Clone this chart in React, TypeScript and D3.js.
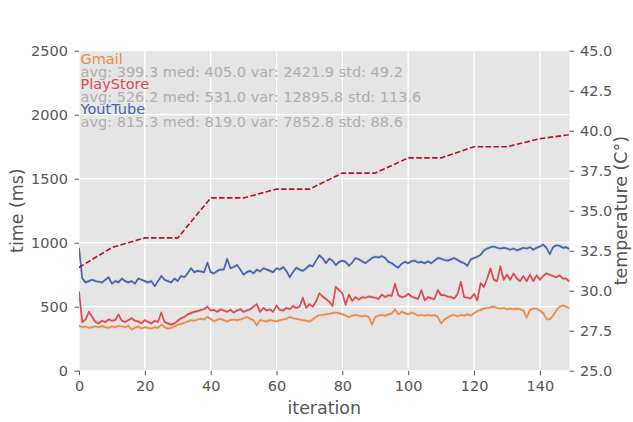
import React, { useEffect, useRef } from 'react';
import * as d3 from 'd3';

const gmail = [
  350, 340, 345, 335, 340, 345, 340, 350, 340, 335,
  345, 340, 350, 345, 340, 350, 320, 335, 345, 330,
  340, 335, 330, 340, 335, 360, 340, 330, 335, 345,
  360, 365, 375, 385, 395, 390, 400, 405, 400, 420,
  405, 385, 400, 405, 395, 385, 395, 400, 395, 400,
  410, 420, 405, 395, 355, 395, 390, 385, 395, 390,
  385, 395, 400, 405, 420, 410, 405, 400, 395, 390,
  385, 400, 420, 435, 435, 440, 445, 450, 455, 450,
  440, 430, 420, 430, 435, 430, 425, 430, 420, 360,
  420, 430, 435, 430, 440, 445, 480, 440, 460, 450,
  440, 455, 445, 430, 435, 430, 435, 430, 435, 420,
  370, 400, 415, 430, 435, 425, 435, 430, 440, 430,
  450, 465, 475, 485, 490, 495, 500, 490, 485, 490,
  480, 485, 480, 485, 480, 470, 415, 475, 485, 485,
  470, 450, 405, 400, 430, 470, 500, 510, 500, 490,
];

const playStore = [
  620, 380, 400, 460, 420, 380, 370, 390, 380, 400,
  390, 395, 440, 390, 380, 395, 410, 390, 385, 370,
  395, 380, 370, 390, 380, 455, 380, 370, 360, 370,
  390, 410, 420, 440, 450, 460, 465, 475, 480, 500,
  470, 475, 460, 480, 470, 460, 475, 455, 470, 480,
  460, 470, 480, 500, 520, 460, 490, 470, 480, 460,
  510, 475, 470, 490, 480, 505, 490, 500, 570, 490,
  520, 500, 540, 605, 580, 560, 540, 505, 655, 630,
  605, 515, 595, 545, 575, 555, 575, 570, 580, 575,
  570, 560, 595, 575, 590, 585, 680, 590, 575, 580,
  600, 580, 570, 560, 630, 550, 575, 565, 560, 630,
  590, 590, 580, 575, 565, 600, 695, 575, 570, 565,
  600, 550, 685, 655, 720, 800, 710, 700, 815, 710,
  750, 710, 760, 720, 700, 740, 700, 750, 700, 745,
  710, 740, 760, 750, 740, 730, 745, 720, 720, 695,
];

const youTube = [
  960, 720, 690, 700, 710, 700, 695, 690, 710, 730,
  680, 700, 690, 720, 700, 690, 700, 680, 720, 710,
  700, 690, 700, 660, 700, 740, 710, 700, 690, 720,
  700, 740, 730, 760, 800, 770, 780, 775, 770, 845,
  770, 760, 780, 790, 790, 875, 800, 810, 825, 790,
  750, 770, 780, 760, 790, 775, 800, 790, 780, 770,
  800, 790, 810, 780, 730, 770, 805, 790, 780, 800,
  825, 815, 860, 900, 880, 840, 875, 860, 825, 850,
  860, 850, 820, 845, 880, 870, 855, 840, 860, 880,
  890, 885, 895, 880, 850, 840, 820, 805, 835, 850,
  840, 855, 860, 845, 850, 840, 855, 840, 860, 880,
  875, 865, 860, 870, 880, 865, 850, 840, 820, 870,
  880, 890, 905, 940, 955, 965, 970, 960, 955, 960,
  955, 945, 955, 940, 950, 960, 955, 965, 945, 960,
  970, 985, 960, 910, 965, 980, 975, 960, 965, 950,
];

const tempIterations = [0, 10, 20, 30, 40, 50, 60, 70, 80, 90, 100, 110, 120, 130, 140, 149];
const temperature = [31.45, 32.7, 33.3, 33.3, 35.8, 35.8, 36.35, 36.35, 37.35, 37.35, 38.3, 38.3, 39.0, 39.0, 39.5, 39.75];

const seriesNames = ['Gmail', 'PlayStore', 'YoutTube'];
const seriesStats = [
  'avg: 399.3 med: 405.0 var: 2421.9 std: 49.2',
  'avg: 526.2 med: 531.0 var: 12895.8 std: 113.6',
  'avg: 815.3 med: 819.0 var: 7852.8 std: 88.6',
];
const seriesColors = ['#EE8A48', '#DC4A50', '#4765AE'];
const seriesData = [gmail, playStore, youTube];

const xTicks = [0, 20, 40, 60, 80, 100, 120, 140];
const yTicks = [0, 500, 1000, 1500, 2000, 2500];
const tTicks = [25, 27.5, 30, 32.5, 35, 37.5, 40, 42.5, 45];

const W = 633;
const H = 422;
const L = 79;
const R = 569.5;
const T = 50.7;
const B = 370.7;
const FONT = 'DejaVu Sans, sans-serif';

export default function App() {
  const ref = useRef<SVGSVGElement>(null);

  useEffect(() => {
    const svg = d3.select(ref.current);
    svg.selectAll('*').remove();

    const x = d3.scaleLinear().domain([0, 149]).range([L, R]);
    const y = d3.scaleLinear().domain([0, 2500]).range([B, T]);
    const yT = d3.scaleLinear().domain([25, 45]).range([B, T]);

    svg.append('rect').attr('x', 0).attr('y', 0).attr('width', W).attr('height', H).attr('fill', '#ffffff');
    svg.append('rect').attr('x', L).attr('y', T).attr('width', R - L).attr('height', B - T).attr('fill', '#E5E5E5');

    const grid = svg.append('g');
    grid.selectAll('line.gx').data(xTicks).enter().append('line')
      .attr('x1', (d) => x(d)).attr('x2', (d) => x(d)).attr('y1', T).attr('y2', B)
      .attr('stroke', '#ffffff').attr('stroke-width', 1.3);
    grid.selectAll('line.gy').data(yTicks).enter().append('line')
      .attr('y1', (d) => y(d)).attr('y2', (d) => y(d)).attr('x1', L).attr('x2', R)
      .attr('stroke', '#ffffff').attr('stroke-width', 1.3);

    const clip = svg.append('defs').append('clipPath').attr('id', 'plotclip');
    clip.append('rect').attr('x', L).attr('y', T).attr('width', R - L).attr('height', B - T);

    const plot = svg.append('g').attr('clip-path', 'url(#plotclip)');

    seriesData.forEach((data, i) => {
      const area = d3.area<number>()
        .x((_, j) => x(j))
        .y0((d) => y(d - 14))
        .y1((d) => y(d + 14));
      plot.append('path').attr('d', area(data) as string)
        .attr('fill', seriesColors[i]).attr('fill-opacity', 0.15);
    });

    seriesData.forEach((data, i) => {
      const line = d3.line<number>().x((_, j) => x(j)).y((d) => y(d));
      plot.append('path').attr('d', line(data) as string)
        .attr('fill', 'none').attr('stroke', seriesColors[i])
        .attr('stroke-width', 1.7).attr('stroke-linejoin', 'round');
    });

    const tLine = d3.line<number>().x((_, j) => x(tempIterations[j])).y((d) => yT(d));
    plot.append('path').attr('d', tLine(temperature) as string)
      .attr('fill', 'none').attr('stroke', '#BC1025').attr('stroke-width', 1.6)
      .attr('stroke-dasharray', '5.5,2.4');

    const txt = svg.append('g').attr('font-family', FONT).attr('font-size', 14.5);
    seriesNames.forEach((name, i) => {
      txt.append('text').attr('x', 80.5).attr('y', 64 + i * 25)
        .attr('fill', seriesColors[i]).text(name);
      txt.append('text').attr('x', 80.5).attr('y', 76.5 + i * 25)
        .attr('fill', '#B0B0B0').text(seriesStats[i]);
    });

    const styleAxis = (g: any) => {
      g.select('.domain').remove();
      g.selectAll('.tick line').attr('stroke', '#555555').attr('stroke-width', 1);
      g.selectAll('.tick text').attr('fill', '#555555').attr('font-size', 14.5).attr('font-family', FONT);
    };

    const gx = svg.append('g').attr('transform', `translate(0,${B})`)
      .call(d3.axisBottom(x).tickValues(xTicks).tickSize(4.5).tickPadding(6).tickFormat(d3.format('d')) as any);
    styleAxis(gx);

    const gy = svg.append('g').attr('transform', `translate(${L},0)`)
      .call(d3.axisLeft(y).tickValues(yTicks).tickSize(4.5).tickPadding(6.5).tickFormat(d3.format('d')) as any);
    styleAxis(gy);

    const gt = svg.append('g').attr('transform', `translate(${R},0)`)
      .call(d3.axisRight(yT).tickValues(tTicks).tickSize(4.5).tickPadding(6).tickFormat(d3.format('.1f')) as any);
    styleAxis(gt);

    const labels = svg.append('g').attr('font-family', FONT).attr('font-size', 17.4).attr('fill', '#555555');
    labels.append('text').attr('x', (L + R) / 2).attr('y', 414).attr('text-anchor', 'middle').text('iteration');
    labels.append('text').attr('transform', `translate(22.5,${(T + B) / 2}) rotate(-90)`)
      .attr('text-anchor', 'middle').text('time (ms)');
    labels.append('text').attr('transform', `translate(627,${(T + B) / 2}) rotate(-90)`)
      .attr('text-anchor', 'middle').text('temperature (C°)');
  }, []);

  return (
    <svg ref={ref} width={W} height={H}
      style={{ position: 'absolute', left: 0, top: 0, display: 'block' }} />
  );
}
